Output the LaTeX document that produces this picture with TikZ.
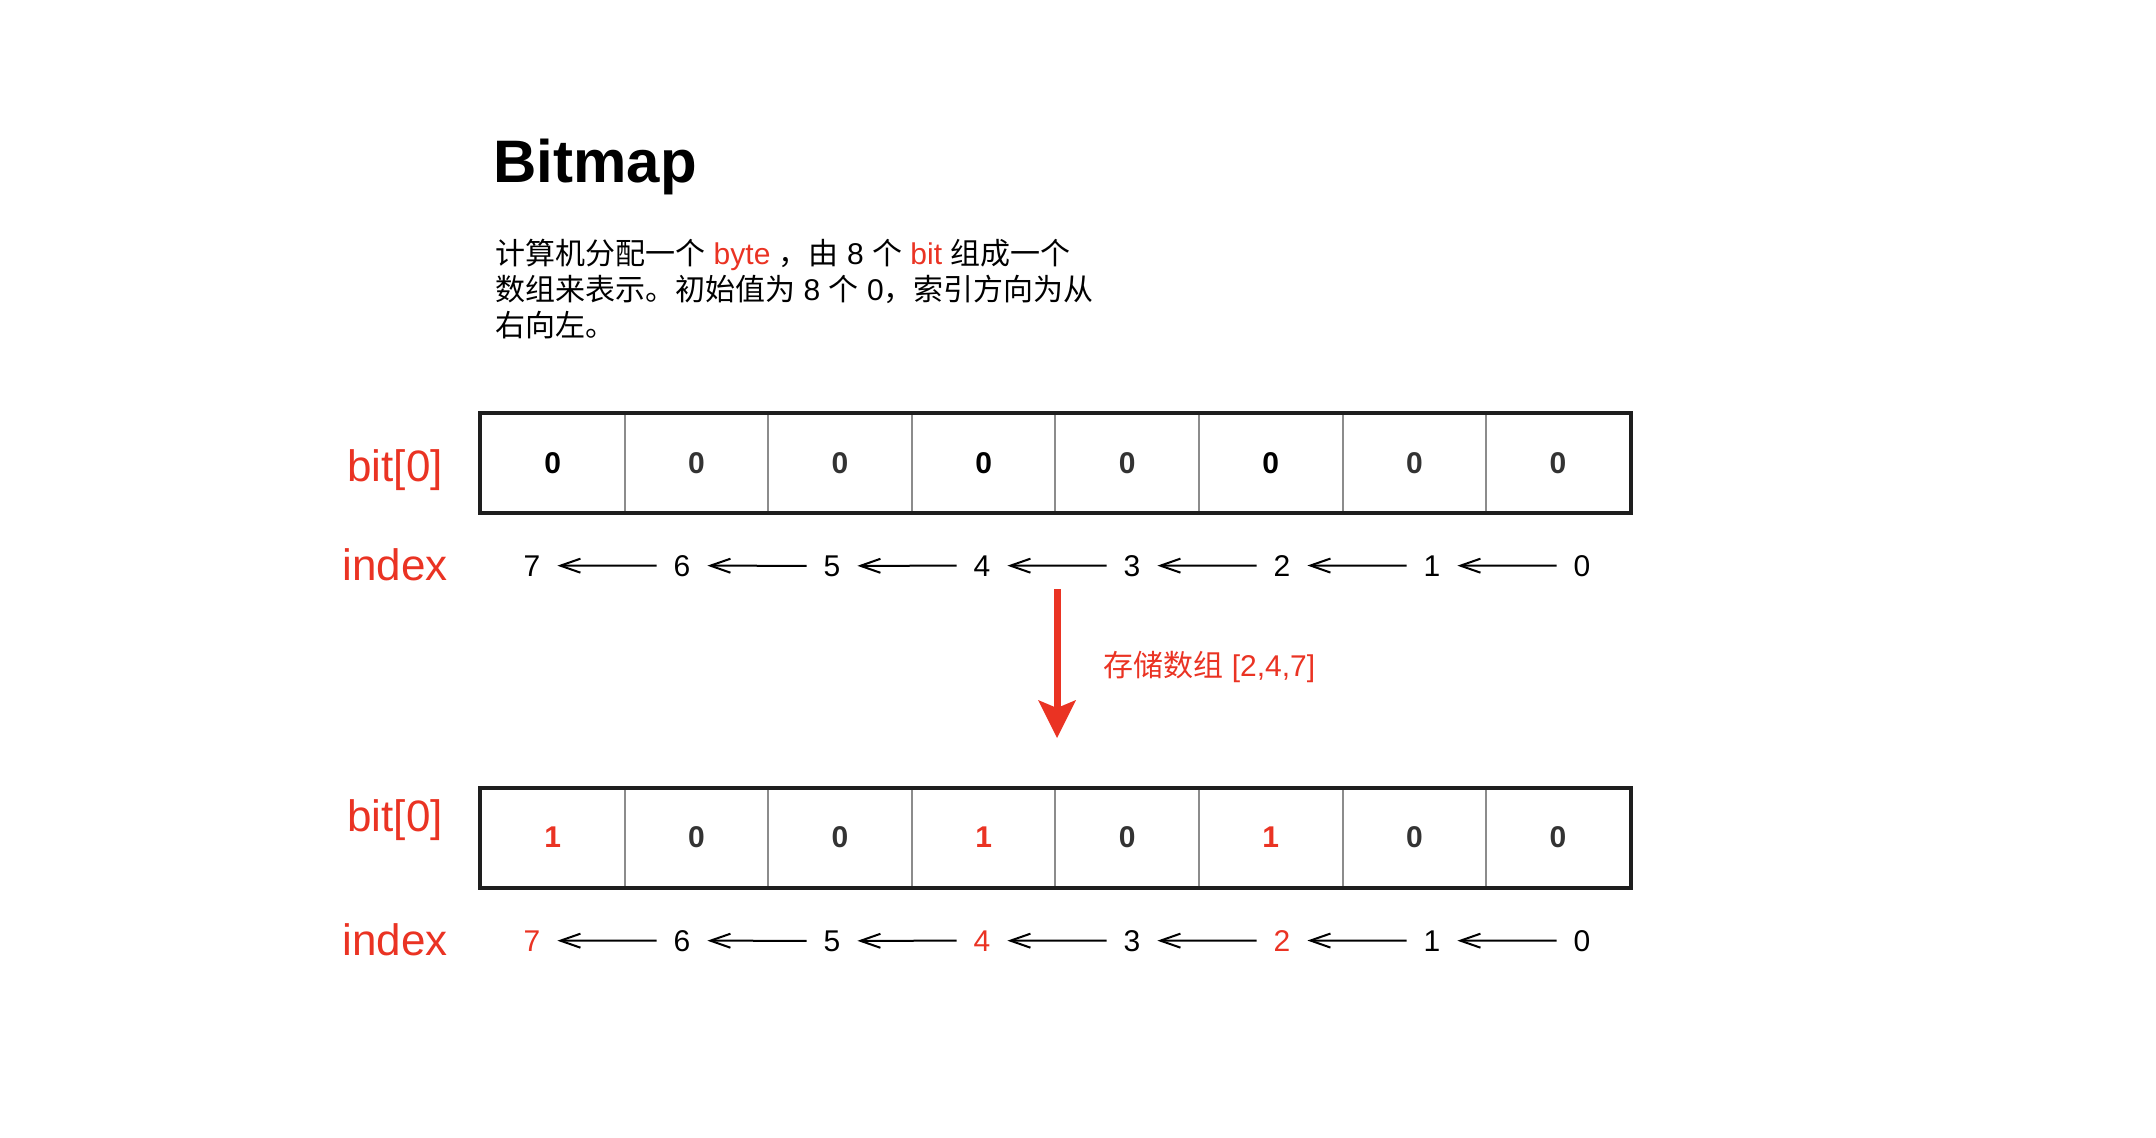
\documentclass[tikz,border=0pt]{standalone}
\usepackage{fontspec}
\setmainfont{Liberation Sans}
\newfontfamily\cjk{Noto Sans CJK SC}
\usetikzlibrary{arrows.meta}
\definecolor{myred}{RGB}{234,51,35}
\definecolor{framec}{RGB}{30,30,30}
\definecolor{divc}{RGB}{140,140,140}
\definecolor{darkd}{RGB}{51,51,51}
\begin{document}
\begin{tikzpicture}[x=0.5pt,y=-0.5pt,
  cell/.style={draw=divc, line width=1pt, minimum width=71.8pt, minimum height=49pt,
    inner sep=0pt, font=\fontsize{15pt}{17pt}\selectfont\bfseries, text=darkd},
  frame/.style={draw=framec, line width=2pt},
  sidelabel/.style={text=myred, font=\fontsize{22pt}{26pt}\selectfont, inner sep=0pt, anchor=base},
  idx/.style={font=\fontsize{15pt}{18pt}\selectfont, inner sep=0pt, minimum width=25pt, anchor=base},
  idxarrow/.style={draw=black, line width=1pt, -{Straight Barb[length=10pt,width=7pt]}},
  redarrow/.style={draw=myred, line width=3.5pt, -{Stealth[length=19pt,width=19pt,inset=4pt,line width=0pt]}},
  hit/.style={text=myred}
]
\useasboundingbox (0,0) rectangle (2156,1138);

% title and description
\node[anchor=base west, inner sep=0pt, font=\fontsize{30pt}{36pt}\selectfont\bfseries] (title) at (493,183) {Bitmap};
\node[anchor=base west, align=left, inner sep=0pt, font=\fontsize{15pt}{18pt}\selectfont] (desc) at (495,337)
  {{\cjk 计算机分配一个} \textcolor{myred}{byte} {\cjk ，}{\cjk 由} 8 {\cjk 个} \textcolor{myred}{bit} {\cjk 组成一个}\\
   {\cjk 数组来表示。初始值为} 8 {\cjk 个} 0{\cjk ，索引方向为从}\\
   {\cjk 右向左。}};

% top array
\foreach \i/\c in {1/black,2/darkd,3/darkd,4/black,5/darkd,6/black,7/darkd,8/darkd}
  \node[cell, text=\c] (t\i) at ({552.8+143.6*(\i-1)},463.5) {0};
\draw[frame] (t1.north west) rectangle (t8.south east);

\node[sidelabel] (tlab) at (395,481) {bit[0]};
\node[sidelabel] (tidx) at (395,580) {index};

\foreach \k in {0,...,7}
  \node[idx] (ti\k) at ({1582-150*\k},576) {\k};
\foreach \a/\b in {0/1,1/2,2/3,3/4,4/5,5/6,6/7}
  \draw[idxarrow] (ti\a.west) -- (ti\b.east);

% red arrow
\coordinate (ra) at (1057,589);
\coordinate (rb) at (1057,738);
\draw[redarrow] (ra) -- (rb);
\node[anchor=base west, inner sep=0pt, text=myred, font=\fontsize{15pt}{18pt}\selectfont] (store) at (1103,676)
  {{\cjk 存储数组} [2,4,7]};

% bottom array
\foreach \i/\v/\c in {1/1/myred,2/0/darkd,3/0/darkd,4/1/myred,5/0/darkd,6/1/myred,7/0/darkd,8/0/darkd}
  \node[cell, text=\c] (b\i) at ({552.8+143.6*(\i-1)},837.5) {\v};
\draw[frame] (b1.north west) rectangle (b8.south east);

\node[sidelabel] (blab) at (395,831) {bit[0]};
\node[sidelabel] (bidx) at (395,955) {index};

\foreach \k/\c in {0/black,1/black,2/myred,3/black,4/myred,5/black,6/black,7/myred}
  \node[idx, text=\c] (bi\k) at ({1582-150*\k},951) {\k};
\foreach \a/\b in {0/1,1/2,2/3,3/4,4/5,5/6,6/7}
  \draw[idxarrow] (bi\a.west) -- (bi\b.east);
\end{tikzpicture}
\end{document}
